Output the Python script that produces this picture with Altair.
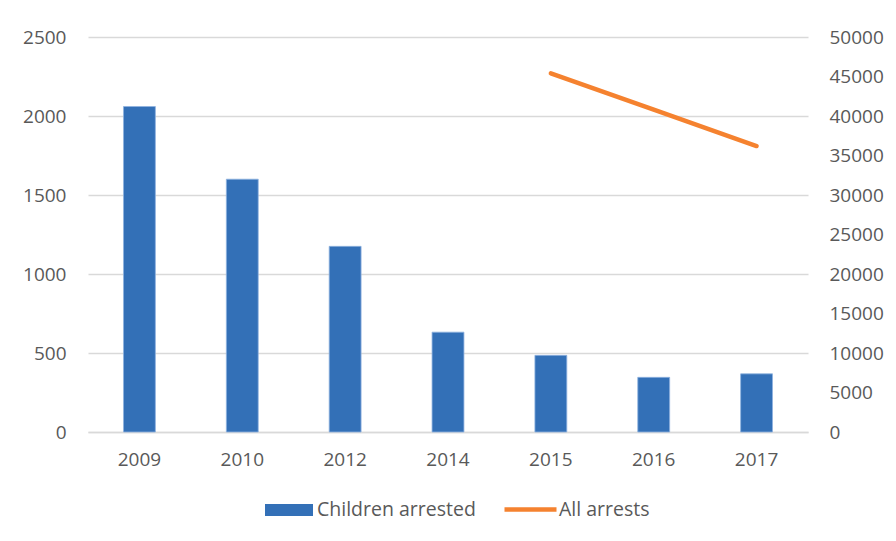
import altair as alt
import pandas as pd

years = ["2009", "2010", "2012", "2014", "2015", "2016", "2017"]
children_arrested = [2060, 1600, 1175, 632, 485, 346, 368]
all_arrests = [None, None, None, None, 45400, 40800, 36200]

bar_label = "Children arrested"
line_label = "All arrests"
blue = "#3370B7"
orange = "#F5822F"
grey_text = "#595959"
grid = "#D9D9D9"
font = "Open Sans"

df = pd.DataFrame({
    "year": years,
    "children": children_arrested,
    "arrests": all_arrests,
    "s1": [bar_label] * len(years),
    "s2": [line_label] * len(years),
})

x = alt.X("year:N", sort=years, title=None,
          scale=alt.Scale(paddingInner=0.69, paddingOuter=0.345),
          axis=alt.Axis(labelAngle=0, labelFontSize=19, labelColor=grey_text, labelFont=font,
                        labelPadding=18, ticks=False, domain=True, domainColor=grid, domainWidth=1.5))

bars = alt.Chart(df).mark_bar(stroke="#8FB2E0", strokeWidth=0.8).encode(
    x=x,
    y=alt.Y("children:Q", title=None,
            scale=alt.Scale(domain=[0, 2500], nice=False),
            axis=alt.Axis(values=[0, 500, 1000, 1500, 2000, 2500], format="d", labelFontSize=19,
                          labelColor=grey_text, labelFont=font, labelPadding=22, ticks=False,
                          domain=False, grid=True, gridColor=grid, gridWidth=1.5)),
    color=alt.Color("s1:N", title=None,
                    scale=alt.Scale(domain=[bar_label], range=[blue]),
                    legend=alt.Legend(orient="none", legendX=177, legendY=449,
                                      symbolType="M-1,-0.25H1V0.25H-1Z", symbolSize=2304,
                                      symbolStrokeWidth=0, symbolOpacity=1,
                                      labelFontSize=19.5, labelColor=grey_text, labelFont=font,
                                      labelOffset=4)),
)

line = alt.Chart(df).mark_line(strokeWidth=4.5, strokeCap="round").encode(
    x=x,
    y=alt.Y("arrests:Q", title=None,
            scale=alt.Scale(domain=[0, 50000], nice=False),
            axis=alt.Axis(orient="right", values=[0, 5000, 10000, 15000, 20000, 25000, 30000,
                                                   35000, 40000, 45000, 50000], format="d",
                          labelFontSize=19, labelColor=grey_text, labelFont=font,
                          labelPadding=21, ticks=False, domain=False, grid=False)),
    stroke=alt.Stroke("s2:N", title=None,
                      scale=alt.Scale(domain=[line_label], range=[orange]),
                      legend=alt.Legend(orient="none", legendX=414, legendY=444,
                                        symbolType="stroke", symbolSize=2704,
                                        symbolStrokeWidth=4.5,
                                        labelFontSize=19.5, labelColor=grey_text, labelFont=font,
                                        labelOffset=0)),
)

chart = alt.layer(bars, line).resolve_scale(
    y="independent", color="independent", stroke="independent"
).properties(
    width=720, height=395,
    padding={"left": 80, "top": 29, "right": 80, "bottom": 101},
    autosize=alt.AutoSizeParams(type="none"),
).configure(background="white", view=alt.ViewConfig(stroke=None))

chart.save("out.html", embed_options={"renderer": "svg", "actions": False})
